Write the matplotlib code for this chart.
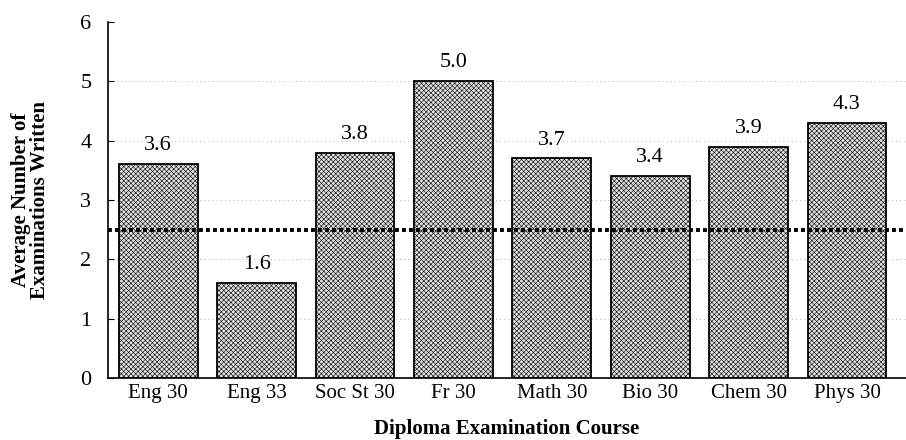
import numpy as np
import matplotlib.pyplot as plt

plt.rcParams["font.family"] = ["Liberation Serif", "DejaVu Serif"]
plt.rcParams["hatch.linewidth"] = 0.4
plt.rcParams["hatch.color"] = "#1a1a1a"

courses = ["Eng 30", "Eng 33", "Soc St 30", "Fr 30", "Math 30", "Bio 30", "Chem 30", "Phys 30"]
avg_exams = [3.6, 1.6, 3.8, 5.0, 3.7, 3.4, 3.9, 4.3]
overall_avg = 2.5

fig = plt.figure(figsize=(9.06, 4.40), dpi=100)
ax = fig.add_axes([108 / 906, 62 / 440, 798 / 906, 356 / 440])

x = np.arange(len(courses))
ax.set_xlim(-0.51, len(courses) - 1 + 0.6)
ax.set_ylim(0, 6)

# faint dotted guides between the bars
for yv in range(1, 6):
    ax.axhline(yv, color="#999999", lw=0.6, ls=(0, (1, 4)), zorder=0)

ax.bar(x, avg_exams, width=0.8, facecolor="#e0e0e0", edgecolor="black",
       linewidth=1.3, hatch="xxxxxxx", zorder=2)

for xi, v in zip(x, avg_exams):
    ax.text(xi, v + 0.15, f"{v:.1f}", ha="center", va="bottom", fontsize=16)

ax.axhline(overall_avg, color="black", lw=2.8, ls=(0, (1, 0.8)), zorder=3)

ax.set_xticks(x, labels=courses, fontsize=15)
ax.set_yticks(range(7), labels=[str(i) for i in range(7)], fontsize=16)
ax.tick_params(axis="x", length=0, pad=4)
ax.tick_params(axis="y", length=4, direction="in", pad=12)

for side in ("top", "right"):
    ax.spines[side].set_visible(False)
ax.spines["left"].set_linewidth(1.2)
ax.spines["bottom"].set_linewidth(1.2)

ax.set_xlabel("Diploma Examination Course", fontsize=15, fontweight="bold", labelpad=12)
ax.set_ylabel("Average Number of\nExaminations Written", fontsize=15,
              fontweight="bold", labelpad=22, linespacing=0.9)

fig.savefig("out.png", dpi=100)
